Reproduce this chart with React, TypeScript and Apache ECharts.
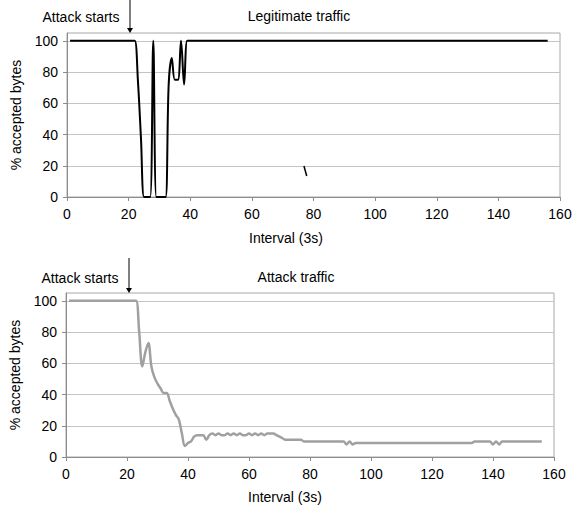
import React, { useEffect, useRef } from "react";
import * as echarts from "echarts";

// Interval index (x = 1..156) for both series
const legitimateTraffic = [
  100, 100, 100, 100, 100, 100, 100, 100, 100, 100,
  100, 100, 100, 100, 100, 100, 100, 100, 100, 100,
  100, 100, 75, 38, 0, 0, 0, 100, 0, 0,
  0, 0, 72, 89, 75, 75, 100, 72, 100, 100,
  100, 100, 100, 100, 100, 100, 100, 100, 100, 100,
  100, 100, 100, 100, 100, 100, 100, 100, 100, 100,
  100, 100, 100, 100, 100, 100, 100, 100, 100, 100,
  100, 100, 100, 100, 100, 100, 100, 100, 100, 100,
  100, 100, 100, 100, 100, 100, 100, 100, 100, 100,
  100, 100, 100, 100, 100, 100, 100, 100, 100, 100,
  100, 100, 100, 100, 100, 100, 100, 100, 100, 100,
  100, 100, 100, 100, 100, 100, 100, 100, 100, 100,
  100, 100, 100, 100, 100, 100, 100, 100, 100, 100,
  100, 100, 100, 100, 100, 100, 100, 100, 100, 100,
  100, 100, 100, 100, 100, 100, 100, 100, 100, 100,
  100, 100, 100, 100, 100, 100,
];

const attackTraffic = [
  100, 100, 100, 100, 100, 100, 100, 100, 100, 100,
  100, 100, 100, 100, 100, 100, 100, 100, 100, 100,
  100, 100, 100, 80, 58, 67, 73, 58, 51, 47,
  44, 41, 41, 36, 31, 27, 24, 15, 7, 9,
  10, 13, 14, 14, 14, 11, 14, 15, 14, 15,
  14, 14, 15, 14, 15, 14, 15, 14, 14, 15,
  14, 15, 14, 15, 14, 15, 15, 15, 14, 13,
  12, 11, 11, 11, 11, 11, 11, 10, 10, 10,
  10, 10, 10, 10, 10, 10, 10, 10, 10, 10,
  10, 8, 10, 8, 9, 9, 9, 9, 9, 9,
  9, 9, 9, 9, 9, 9, 9, 9, 9, 9,
  9, 9, 9, 9, 9, 9, 9, 9, 9, 9,
  9, 9, 9, 9, 9, 9, 9, 9, 9, 9,
  9, 9, 9, 10, 10, 10, 10, 10, 10, 8,
  10, 8, 10, 10, 10, 10, 10, 10, 10, 10,
  10, 10, 10, 10, 10, 10,
];

// small stray stroke visible in the upper plot
const strayMarkX = [76.9, 77.8];
const strayMarkY = [19.8, 13.4];

const yTickValues = [0, 20, 40, 60, 80, 100];
const xMin = 0;
const xMax = 160;
const xInterval = 20;
const yMax = 105;

const chartTitles = ["Legitimate traffic", "Attack traffic"];
const annotationText = "Attack starts";
const xAxisTitle = "Interval (3s)";
const yAxisTitle = "% accepted bytes";

const FONT = "'Liberation Sans', Arial, sans-serif";

export default function App() {
  const ref = useRef<HTMLDivElement>(null);

  useEffect(() => {
    document.body.style.margin = "0";
    const chart = echarts.init(ref.current!, null, { renderer: "svg" });

    const toPoints = (vals: number[]) => vals.map((v, i) => [i + 1, v]);

    const xAxisBase = (gridIndex: number) => ({
      type: "value",
      gridIndex,
      min: xMin,
      max: xMax,
      interval: xInterval,
      axisLine: { lineStyle: { color: "#8c8c8c", width: 1 } },
      axisTick: { show: true, length: 4, inside: false, lineStyle: { color: "#8c8c8c" } },
      axisLabel: { fontFamily: FONT, fontSize: 14, color: "#000", margin: 10 },
      splitLine: { show: false },
    });

    const yAxisBase = (gridIndex: number) => ({
      type: "value",
      gridIndex,
      min: 0,
      max: yMax,
      interval: 20,
      name: yAxisTitle,
      nameLocation: "middle",
      nameGap: 44,
      nameTextStyle: { fontFamily: FONT, fontSize: 14, color: "#000" },
      axisLine: { show: true, lineStyle: { color: "#8c8c8c", width: 1 } },
      axisTick: {
        show: true,
        length: 4,
        inside: false,
        customValues: yTickValues,
        lineStyle: { color: "#8c8c8c" },
      },
      axisLabel: {
        fontFamily: FONT,
        fontSize: 14,
        color: "#000",
        margin: 9,
        customValues: yTickValues,
      },
      splitLine: { show: true, lineStyle: { color: "#c4c4c4", width: 1 } },
    });

    const textEl = (text: string, x: number, y: number, align = "center") => ({
      type: "text",
      x,
      y,
      style: {
        text,
        fontFamily: FONT,
        fontSize: 14,
        fill: "#000",
        align,
        verticalAlign: "middle",
      },
    });

    const arrow = (x: number, y0: number, tip: number) => [
      {
        type: "line",
        shape: { x1: x, y1: y0, x2: x, y2: tip - 4 },
        style: { stroke: "#000", lineWidth: 1 },
      },
      {
        type: "polygon",
        shape: { points: [[x - 3, tip - 5], [x + 3, tip - 5], [x, tip]] },
        style: { fill: "#000" },
      },
    ];

    chart.setOption({
      animation: false,
      backgroundColor: "#fff",
      grid: [
        { left: 67, right: 20, top: 33, height: 164, show: true, borderColor: "#a8a8a8", borderWidth: 1, backgroundColor: "transparent" },
        { left: 66, right: 26, top: 293, height: 164, show: true, borderColor: "#a8a8a8", borderWidth: 1, backgroundColor: "transparent" },
      ],
      xAxis: [xAxisBase(0), xAxisBase(1)],
      yAxis: [yAxisBase(0), yAxisBase(1)],
      series: [
        {
          type: "line",
          xAxisIndex: 0,
          yAxisIndex: 0,
          data: toPoints(legitimateTraffic),
          smooth: 0.35,
          symbol: "none",
          lineStyle: { color: "#000", width: 2 },
          clip: true,
        },
        {
          type: "line",
          xAxisIndex: 0,
          yAxisIndex: 0,
          data: strayMarkX.map((x, i) => [x, strayMarkY[i]]),
          symbol: "none",
          lineStyle: { color: "#000", width: 1.5 },
        },
        {
          type: "line",
          xAxisIndex: 1,
          yAxisIndex: 1,
          data: toPoints(attackTraffic),
          smooth: 0.35,
          symbol: "none",
          lineStyle: { color: "#a0a0a0", width: 2.5 },
          clip: true,
        },
      ],
      graphic: [
        textEl(chartTitles[0], 299, 16),
        textEl(chartTitles[1], 296, 277),
        textEl(annotationText, 81, 17),
        textEl(annotationText, 80, 278),
        textEl(xAxisTitle, 249, 238, "left"),
        textEl(xAxisTitle, 248, 497, "left"),
        ...arrow(130, 0, 33),
        ...arrow(129, 258, 293),
      ],
    });

    return () => chart.dispose();
  }, []);

  return (
    <div
      ref={ref}
      style={{ width: 580, height: 506, position: "absolute", left: 0, top: 0 }}
    />
  );
}
